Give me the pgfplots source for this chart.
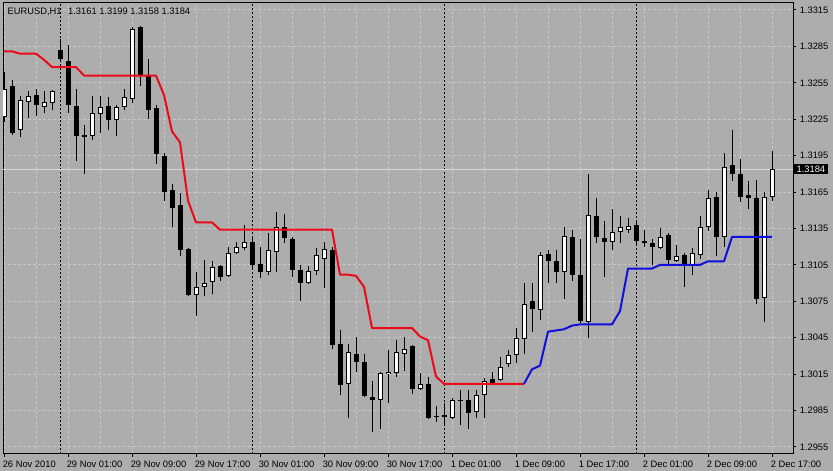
\documentclass[border=0pt]{standalone}
\usepackage{pgfplots}
\usepackage{pgfplotstable}
\usepackage{fontspec}
\setmainfont{Liberation Sans}
\pgfplotsset{compat=1.18}
\definecolor{bgc}{RGB}{173,173,173}
\definecolor{gridc}{RGB}{199,199,199}
\definecolor{bidc}{RGB}{216,216,216}
\definecolor{redc}{RGB}{236,10,24}
\definecolor{bluec}{RGB}{16,16,220}

\pgfplotstableread{
i o h l c
-7 1.3227 1.3264 1.3223 1.3250
-6 1.3252 1.3257 1.3212 1.3214
-5 1.3216 1.3244 1.3210 1.3241
-4 1.3239 1.3248 1.3226 1.3244
-3 1.3245 1.3250 1.3228 1.3237
-2 1.3235 1.3248 1.3230 1.3239
-1 1.3238 1.3249 1.3233 1.3248
0 1.3282 1.3291 1.3272 1.3275
1 1.3273 1.3286 1.3230 1.3237
2 1.3236 1.3250 1.3191 1.3211
3 1.3212 1.3220 1.3180 1.3210
4 1.3211 1.3244 1.3208 1.3230
5 1.3229 1.3244 1.3214 1.3235
6 1.3236 1.3243 1.3216 1.3224
7 1.3224 1.3237 1.3211 1.3235
8 1.3235 1.3250 1.3233 1.3243
9 1.3242 1.3301 1.3238 1.3299
10 1.3301 1.3302 1.3252 1.3261
11 1.3261 1.3275 1.3225 1.3233
12 1.3234 1.3237 1.3188 1.3196
13 1.3195 1.3197 1.3158 1.3165
14 1.3167 1.3172 1.3136 1.3152
15 1.3154 1.3164 1.3112 1.3117
16 1.3118 1.3119 1.3079 1.3080
17 1.3080 1.3099 1.3063 1.3087
18 1.3087 1.3109 1.3079 1.3090
19 1.3091 1.3108 1.3081 1.3103
20 1.3104 1.3105 1.3092 1.3095
21 1.3096 1.3120 1.3095 1.3115
22 1.3115 1.3124 1.3114 1.3120
23 1.3119 1.3138 1.3117 1.3124
24 1.3124 1.3128 1.3102 1.3105
25 1.3106 1.3120 1.3094 1.3099
26 1.3099 1.3131 1.3097 1.3117
27 1.3116 1.3149 1.3099 1.3136
28 1.3136 1.3147 1.3123 1.3127
29 1.3126 1.3128 1.3095 1.3101
30 1.3101 1.3105 1.3075 1.3090
31 1.3090 1.3104 1.3089 1.3100
32 1.3100 1.3119 1.3097 1.3113
33 1.3110 1.3124 1.3086 1.3118
34 1.3117 1.3120 1.3036 1.3039
35 1.3040 1.3051 1.2998 1.3006
36 1.3007 1.3040 1.2979 1.3033
37 1.3032 1.3046 1.3017 1.3025
38 1.3025 1.3032 1.2996 1.2997
39 1.2996 1.3009 1.2967 1.2994
40 1.2994 1.3017 1.2970 1.3016
41 1.3015 1.3035 1.2991 1.3017
42 1.3016 1.3043 1.3013 1.3033
43 1.3032 1.3046 1.3018 1.3036
44 1.3038 1.3039 1.2999 1.3003
45 1.3003 1.3016 1.3002 1.3007
46 1.3007 1.3013 1.2978 1.2979
47 1.2980 1.2989 1.2976 1.2980
48 1.2981 1.2991 1.2972 1.2980
49 1.2979 1.2995 1.2978 1.2994
50 1.2993 1.3002 1.2973 1.2994
51 1.2994 1.3002 1.2970 1.2983
52 1.2984 1.3002 1.2979 1.2998
53 1.2998 1.3012 1.2979 1.3009
54 1.3011 1.3017 1.3006 1.3007
55 1.3010 1.3029 1.3009 1.3021
56 1.3023 1.3035 1.3021 1.3031
57 1.3031 1.3053 1.3024 1.3045
58 1.3044 1.3090 1.3032 1.3073
59 1.3075 1.3090 1.3050 1.3069
60 1.3068 1.3116 1.3060 1.3113
61 1.3114 1.3117 1.3090 1.3108
62 1.3108 1.3117 1.3090 1.3099
63 1.3099 1.3136 1.3077 1.3129
64 1.3128 1.3134 1.3092 1.3097
65 1.3097 1.3126 1.3057 1.3059
66 1.3058 1.3180 1.3045 1.3146
67 1.3145 1.3160 1.3123 1.3128
68 1.3127 1.3141 1.3095 1.3124
69 1.3124 1.3151 1.3117 1.3132
70 1.3132 1.3145 1.3123 1.3136
71 1.3134 1.3144 1.3131 1.3137
72 1.3138 1.3142 1.3121 1.3125
73 1.3125 1.3134 1.3120 1.3123
74 1.3123 1.3126 1.3105 1.3120
75 1.3119 1.3135 1.3118 1.3128
76 1.3130 1.3131 1.3106 1.3109
77 1.3108 1.3121 1.3107 1.3112
78 1.3113 1.3115 1.3087 1.3105
79 1.3105 1.3119 1.3097 1.3115
80 1.3113 1.3145 1.3110 1.3136
81 1.3136 1.3167 1.3133 1.3160
82 1.3161 1.3165 1.3112 1.3128
83 1.3128 1.3197 1.3120 1.3186
84 1.3187 1.3216 1.3174 1.3180
85 1.3180 1.3192 1.3157 1.3161
86 1.3163 1.3174 1.3151 1.3160
87 1.3160 1.3175 1.3073 1.3077
88 1.3078 1.3165 1.3058 1.3161
89 1.3161 1.3199 1.3158 1.3184
}\candles

\pgfplotstableread{
i v
-7 1.3281
-6 1.3281
-5 1.3279
-4 1.3279
-3 1.3279
-2 1.3274
-1 1.3268
0 1.3268
1 1.3268
2 1.3268
3 1.3261
4 1.3261
5 1.3261
6 1.3261
7 1.3261
8 1.3261
9 1.3261
10 1.3261
11 1.3261
12 1.3261
13 1.3245
14 1.3215
15 1.3206
16 1.3158
17 1.3140
18 1.3140
19 1.3140
20 1.3134
21 1.3134
22 1.3134
23 1.3134
24 1.3134
25 1.3134
26 1.3134
27 1.3134
28 1.3134
29 1.3134
30 1.3134
31 1.3134
32 1.3134
33 1.3134
34 1.3134
35 1.3097
36 1.3097
37 1.3096
38 1.3087
39 1.3053
40 1.3053
41 1.3053
42 1.3053
43 1.3053
44 1.3053
45 1.3046
46 1.3043
47 1.3013
48 1.3007
49 1.3007
50 1.3007
51 1.3007
52 1.3007
53 1.3007
54 1.3007
55 1.3007
56 1.3007
57 1.3007
58 1.3007
}\redtab

\pgfplotstableread{
i v
58 1.3007
59 1.3019
60 1.3022
61 1.3050
62 1.3051
63 1.3052
64 1.3055
65 1.3056
66 1.3056
67 1.3056
68 1.3056
69 1.3056
70 1.3067
71 1.3102
72 1.3102
73 1.3102
74 1.3102
75 1.3105
76 1.3105
77 1.3105
78 1.3105
79 1.3105
80 1.3105
81 1.3108
82 1.3108
83 1.3108
84 1.3128
85 1.3128
86 1.3128
87 1.3128
88 1.3128
89 1.3128
}\bluetab

\begin{document}
\begin{tikzpicture}
\fill[bgc] (0,0) rectangle (624.75pt,353.25pt);
\begin{axis}[
  at={(2.25pt,12.75pt)}, anchor=south west,
  scale only axis, width=592.5pt, height=338.25pt,
  xmin=-7.125, xmax=91.625, ymin=1.294923, ymax=1.332077,
  axis line style={black, line width=0.75pt},
  tick align=outside,
  xtick pos=left, ytick pos=right, yticklabel pos=right,
  major tick length=2.4pt, minor tick length=0pt,
  tick style={black, line width=0.75pt},
  xtick={-7,1,9,17,25,33,41,49,57,65,73,81,89},
  xticklabels={26 Nov 2010,29 Nov 01:00,29 Nov 09:00,29 Nov 17:00,30 Nov 01:00,30 Nov 09:00,30 Nov 17:00,1 Dec 01:00,1 Dec 09:00,1 Dec 17:00,2 Dec 01:00,2 Dec 09:00,2 Dec 17:00},
  minor xtick={-3,5,13,21,29,37,45,53,61,69,77,85},
  ytick={1.2955,1.2985,1.3015,1.3045,1.3075,1.3105,1.3135,1.3165,1.3195,1.3225,1.3255,1.3285,1.3315},
  yticklabels={1.2955,1.2985,1.3015,1.3045,1.3075,1.3105,1.3135,1.3165,1.3195,1.3225,1.3255,1.3285,1.3315},
  ticklabel style={font=\fontsize{7}{8}\selectfont, text=black, inner sep=0pt},
  xticklabel style={anchor=north west, xshift=-1.1pt, yshift=-2.6pt},
  yticklabel style={anchor=west, xshift=2.5pt},
  grid=both,
  major grid style={draw=gridc, line width=0.75pt, dash pattern=on 2.25pt off 1.5pt},
  minor grid style={draw=gridc, line width=0.75pt, dash pattern=on 2.25pt off 1.5pt},
  extra x ticks={0,24,48,72},
  extra x tick labels={},
  extra x tick style={grid=major, major grid style={draw=black, line width=0.75pt, dash pattern=on 1.5pt off 1.5pt}, major tick length=0pt},
  extra y ticks={1.3184},
  extra y tick labels={1.3184},
  extra y tick style={grid=major, major grid style={draw=bidc, line width=0.75pt, solid}, major tick length=0pt,
    yticklabel style={fill=black, text=white, inner xsep=2.25pt, inner ysep=1.3pt, xshift=-2.25pt}},
  candle/.style={only marks, no markers, mark size=0pt, forget plot,
    error bars/.cd, y dir=plus, y explicit, error mark=none},
]
% wicks
\addplot[candle, error bar style={line width=0.75pt, draw=black, solid}]
  table[x=i, y=l, y error plus expr={\thisrow{h}-\thisrow{l}}] {\candles};
% bodies (black)
\addplot[candle, error bar style={line width=3.75pt, draw=black, solid}]
  table[x=i, y expr={min(\thisrow{o},\thisrow{c})}, y error plus expr={max(abs(\thisrow{c}-\thisrow{o}),0.0000824)}] {\candles};
% bull bodies (white inside)
\addplot[candle, error bar style={line width=2.25pt, draw=white, solid}]
  table[x=i, y expr={\thisrow{o}+0.0000824}, y error plus expr={max(\thisrow{c}-\thisrow{o}-0.0001648,0)}] {\candles};
% stop lines
\addplot[redc, line width=1.5pt, line join=round, mark=none] table[x=i, y=v] {\redtab};
\addplot[bluec, line width=1.5pt, line join=round, mark=none] table[x=i, y=v] {\bluetab};
\end{axis}
\node[anchor=base west, inner sep=0pt, font=\fontsize{7}{8}\selectfont] at (5.5pt,342.5pt) {EURUSD,H1\hspace{5pt}1.3161 1.3199 1.3158 1.3184};
\pgfresetboundingbox
\useasboundingbox (0,0) rectangle (624.75pt,353.25pt);
\end{tikzpicture}
\end{document}
